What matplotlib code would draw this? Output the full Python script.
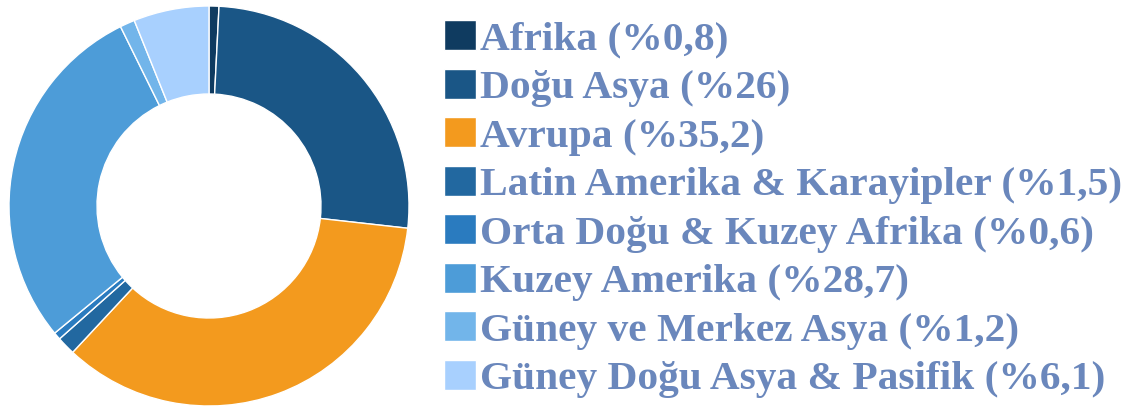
import matplotlib.pyplot as plt

regions = ['Afrika', 'Doğu Asya', 'Avrupa', 'Latin Amerika & Karayipler',
           'Orta Doğu & Kuzey Afrika', 'Kuzey Amerika',
           'Güney ve Merkez Asya', 'Güney Doğu Asya & Pasifik']
shares = [0.8, 26, 35.2, 1.5, 0.6, 28.7, 1.2, 6.1]
share_labels = ['0,8', '26', '35,2', '1,5', '0,6', '28,7', '1,2', '6,1']
colors = ['#0f3b60', '#1a5686', '#f39a1e', '#2268a0',
          '#2a7bbf', '#4d9cd8', '#72b5ea', '#a8d0fe']


def main():
    fig = plt.figure(figsize=(11.36, 4.08), dpi=100)
    ax = fig.add_axes([9 / 1136, 2 / 408, 400 / 1136, 400 / 408])

    # donut, clockwise from 12 o'clock
    wedges, _ = ax.pie(shares, colors=colors, startangle=90, counterclock=False,
                       radius=1.0,
                       wedgeprops=dict(width=0.44, edgecolor='white', linewidth=1))
    ax.set_aspect('equal')
    ax.set_xlim(-1.0, 1.0)
    ax.set_ylim(-1.0, 1.0)

    labels = [f'{r} (%{s})' for r, s in zip(regions, share_labels)]
    leg = fig.legend(wedges, labels, loc='upper left',
                     bbox_to_anchor=(444 / 1136, 1 - 20 / 408),
                     frameon=False, handlelength=0.77, handleheight=0.75,
                     handletextpad=0.1, labelspacing=0.24, borderpad=0,
                     borderaxespad=0,
                     prop=dict(family='Liberation Serif', weight='bold', size=29.8))
    for t in leg.get_texts():
        t.set_color('#6a87bc')

    fig.savefig('out.png', dpi=100)


if __name__ == '__main__':
    main()
